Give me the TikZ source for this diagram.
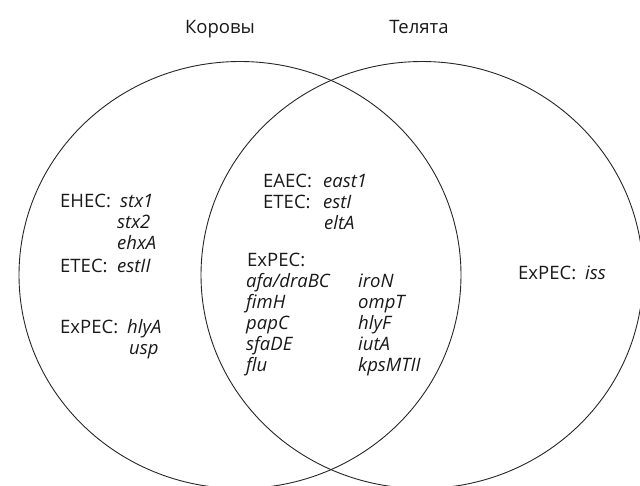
\documentclass[tikz,border=0pt]{standalone}
\usepackage{fontspec}
\setmainfont{Open Sans}
\usetikzlibrary{positioning}

\begin{document}
\begin{tikzpicture}[x=1pt,y=-1pt,
    setline/.style={draw=black!85, line width=0.9pt},
    grouplabel/.style={anchor=base west, inner sep=0pt, text=black!90, font=\fontsize{18.5}{21}\selectfont},
    genelabel/.style={grouplabel, font=\fontsize{18.5}{21}\selectfont\itshape},
    titlelabel/.style={anchor=base, inner sep=0pt, text=black!90, font=\fontsize{18.5}{21}\selectfont},
    ]
    \useasboundingbox (0,0) rectangle (640,485);

    %Sets
    \begin{scope}
    \clip (0,0) rectangle (640,485);
    \draw[setline] (240,275) ellipse [x radius=221, y radius=213.5];
    \draw[setline] (422,275) ellipse [x radius=221, y radius=213.5];
    \end{scope}

    %Titles
    \node[titlelabel] (cows)   at (220,33) {Коровы};
    \node[titlelabel] (calves) at (419,33) {Телята};

    %Cows only
    \node[grouplabel] (ehec)     at (60,207)  {EHEC:};
    \node[genelabel]  (stxone)   at (120,207) {stx1};
    \node[genelabel]  (stxtwo)   at (117,228) {stx2};
    \node[genelabel]  (ehxa)     at (117,249) {ehxA};
    \node[grouplabel] (etecl)    at (60,272)  {ETEC:};
    \node[genelabel]  (estii)    at (117,272) {estII};
    \node[grouplabel] (expecl)   at (60,333)  {ExPEC:};
    \node[genelabel]  (hlya)     at (127,333) {hlyA};
    \node[genelabel]  (usp)      at (129,354) {usp};

    %Both
    \node[grouplabel] (eaec)     at (263,187) {EAEC:};
    \node[genelabel]  (eastone)  at (323,187) {east1};
    \node[grouplabel] (etecm)    at (263,208) {ETEC:};
    \node[genelabel]  (esti)     at (323,208) {estI};
    \node[genelabel]  (elta)     at (324,229) {eltA};
    \node[grouplabel] (expecm)   at (247,266) {ExPEC:};
    \node[genelabel]  (afa)      at (246,287) {afa/draBC};
    \node[genelabel]  (fimh)     at (246,308) {fimH};
    \node[genelabel]  (papc)     at (246,329) {papC};
    \node[genelabel]  (sfade)    at (246,350) {sfaDE};
    \node[genelabel]  (flu)      at (246,371) {flu};
    \node[genelabel]  (iron)     at (358,287) {iroN};
    \node[genelabel]  (ompt)     at (358,308) {ompT};
    \node[genelabel]  (hlyf)     at (358,329) {hlyF};
    \node[genelabel]  (iuta)     at (358,350) {iutA};
    \node[genelabel]  (kpsmtii)  at (358,371) {kpsMTII};

    %Calves only
    \node[grouplabel] (expecr)   at (518,279) {ExPEC:};
    \node[genelabel]  (iss)      at (585,279) {iss};

    \end{tikzpicture}
\end{document}
